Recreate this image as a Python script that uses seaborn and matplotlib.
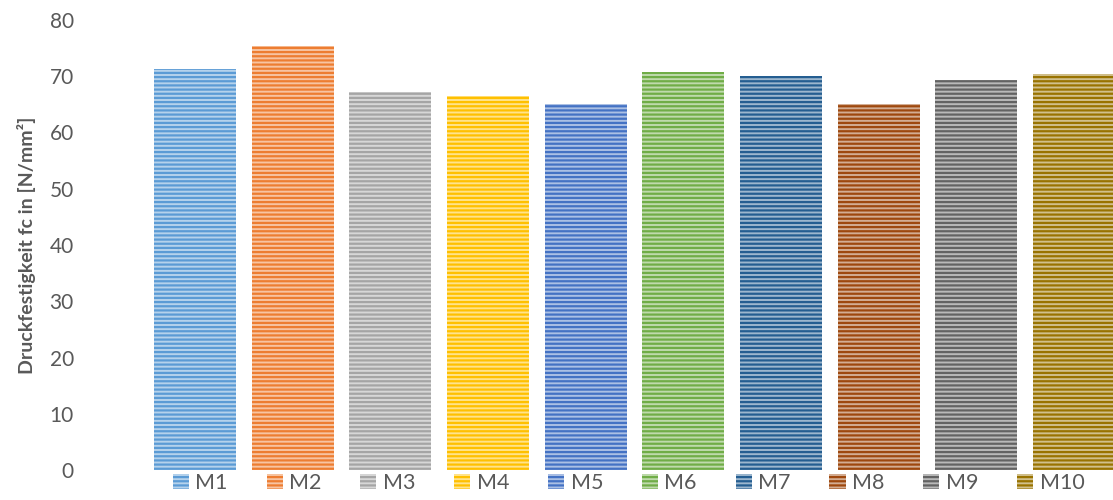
import matplotlib
matplotlib.use("Agg")
import matplotlib.pyplot as plt
import matplotlib.colors as mcolors
from matplotlib.patches import Patch
import seaborn as sns
import pandas as pd

mischungen = ["M1", "M2", "M3", "M4", "M5", "M6", "M7", "M8", "M9", "M10"]
druckfestigkeit = [71.3, 75.4, 67.2, 66.5, 65.1, 70.8, 70.0, 65.1, 69.3, 70.4]
farben = ["#5B9BD5", "#ED7D31", "#A5A5A5", "#FFC000", "#4472C4",
          "#70AD47", "#255E91", "#9E480E", "#636363", "#997300"]

sns.set_style("white")
plt.rcParams["font.family"] = ["Lato", "DejaVu Sans"]
plt.rcParams["hatch.linewidth"] = 1.6

grau = "#595959"


def hell(c, f=0.55):
    r, g, b = mcolors.to_rgb(c)
    return (r + (1 - r) * f, g + (1 - g) * f, b + (1 - b) * f)


df = pd.DataFrame({"Mischung": mischungen, "fc": druckfestigkeit})

fig = plt.figure(figsize=(11.13, 5.0), dpi=100)
ax = fig.add_axes([146 / 1113, 30 / 500, 977 / 1113, 450 / 500])

sns.barplot(data=df, x="Mischung", y="fc", hue="Mischung", palette=farben,
            width=0.84, legend=False, ax=ax)

for patch, c in zip(ax.patches, farben):
    patch.set_facecolor(hell(c))
    patch.set_edgecolor(c)
    patch.set_linewidth(0)
    patch.set_hatch("----")

ax.set_ylim(0, 80)
ax.set_xlim(-0.5, len(mischungen) - 0.5)
ax.set_yticks(range(0, 81, 10))
ax.set_xticks([])
ax.set_xlabel("")
ax.set_ylabel("Druckfestigkeit fc in [N/mm²]", fontsize=14, fontweight="bold",
              color=grau, labelpad=10)
ax.tick_params(axis="y", length=0, pad=52, labelsize=15, labelcolor=grau)
for s in ax.spines.values():
    s.set_visible(False)

handles = [Patch(facecolor=hell(c), edgecolor=c, linewidth=0, hatch="----", label=m)
           for m, c in zip(mischungen, farben)]
leg = ax.legend(handles=handles, loc="center", bbox_to_anchor=(0.494, -0.029),
                ncol=10, frameon=False, fontsize=15.5, handlelength=0.75,
                handleheight=0.75, handletextpad=0.3, columnspacing=1.8,
                borderpad=0)
for t in leg.get_texts():
    t.set_color(grau)

fig.savefig("out.png", dpi=100)
